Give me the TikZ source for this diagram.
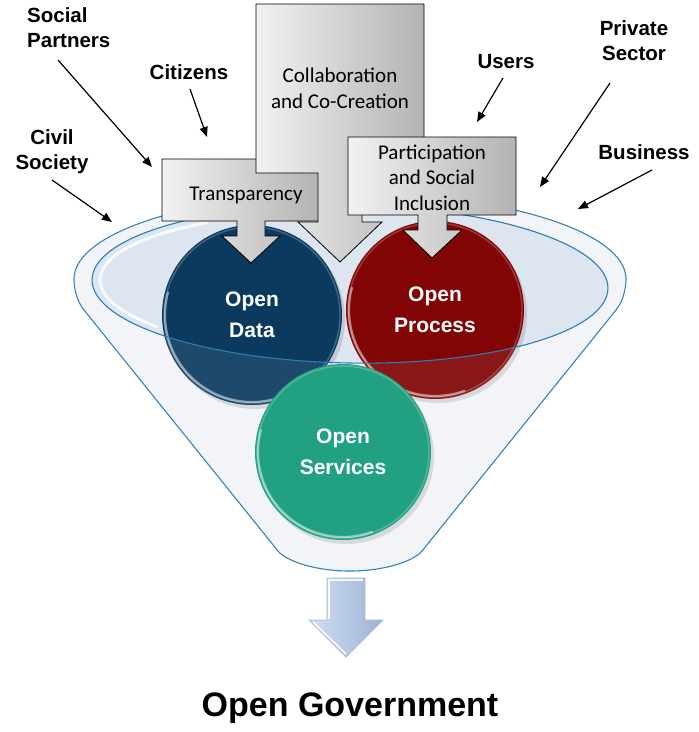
\documentclass[tikz,border=0pt]{standalone}
\usepackage{fontspec}
\setmainfont{Liberation Sans}
\newfontfamily\calfont{Carlito}
\usetikzlibrary{arrows.meta}
\definecolor{funnelblue}{HTML}{2F7DB5}
\definecolor{funnelfill}{HTML}{F3F4F7}
\definecolor{mouthfill}{HTML}{DDE5F0}
\definecolor{odata}{HTML}{0B3A5E}
\definecolor{oproc}{HTML}{820505}
\definecolor{oserv}{HTML}{0F9A78}
\definecolor{boxL}{HTML}{F2F2F2}
\definecolor{boxR}{HTML}{B3B3B3}
\definecolor{arrL}{HTML}{D2DEF0}
\definecolor{arrR}{HTML}{9CB3D6}
\definecolor{arrEdge}{HTML}{A9BCDA}
\def\funnelpath{(74,279) arc[start angle=180,end angle=360,x radius=276,y radius=86]
  .. controls (626,290) and (622.4,302) .. (616,310) -- (422,551)
  .. controls (414,561) and (385,571) .. (350,571)
  .. controls (315,571) and (286,561) .. (278,551) -- (84,310)
  .. controls (77.6,302) and (74,290) .. (74,279) -- cycle}
\begin{document}
\begin{tikzpicture}[x=1pt,y=-1pt,
  lab/.style={font=\fontsize{20.5}{25}\selectfont\bfseries, align=center, inner sep=0pt},
  pointer/.style={line width=1.2pt, -{Triangle[length=10pt,width=8pt]}},
  callout/.style={draw=black, line width=0.8pt, left color=boxL, right color=boxR},
  boxtext/.style={font=\calfont\fontsize{21}{25.5}\selectfont, align=center, text=black, inner sep=0pt},
  disc/.style={circle, minimum size=#1, inner sep=0pt, text=white, font=\fontsize{21}{31}\selectfont\bfseries, align=center},
  funnelline/.style={draw=funnelblue, line width=1.1pt},
  rimfull/.style={white, line width=1.4pt, opacity=.22},
  rim/.style={white, line width=2.2pt, opacity=.5, line cap=round}]
\useasboundingbox (0,0) rectangle (699,732);
% funnel body
\path[fill=funnelfill, funnelline] \funnelpath;
% mouth
\fill[mouthfill, rotate around={-1:(350,284)}] (350,284) ellipse[x radius=258, y radius=79];
\draw[white, line width=3pt, opacity=.8, rotate around={-1:(350,284)}] (350,284) ++(140:250 and 72) arc[start angle=140, end angle=235, x radius=250, y radius=72];
% shadows of discs
\fill[black, opacity=.12] (255,319) circle (90);
\fill[black, opacity=.12] (438,314) circle (89);
\fill[black, opacity=.12] (346,456) circle (88);
% discs
\node[disc=180, fill=odata] (data) at (252,315) {Open\\Data};
\draw[rimfull] (252,315) circle (88);
\draw[rim] (252,315) ++(70:87) arc[start angle=70, end angle=195, radius=87];
\node[disc=178, fill=oproc] (proc) at (435,310) {Open\\Process};
\draw[rimfull] (435,310) circle (87);
\draw[rim] (435,310) ++(70:86) arc[start angle=70, end angle=195, radius=86];
\node[disc=176, fill=oserv] (serv) at (343,452) {Open\\Services};
\draw[rimfull] (343,452) circle (86);
\draw[rim] (343,452) ++(70:85) arc[start angle=70, end angle=195, radius=85];
% lighten what lies below the mouth
\begin{scope}
  \clip \funnelpath;
  \fill[white, opacity=.08, even odd rule, rotate around={-1:(350,284)}] (-50,-50) rectangle (750,780) (350,284) ellipse[x radius=258, y radius=79];
\end{scope}
% mouth outline
\draw[funnelline, rotate around={-1:(350,284)}] (350,284) ellipse[x radius=258, y radius=79];
% callout arrows
\path[callout] (162,159) -- (319,159) -- (319,221) -- (265,221) -- (265,236) -- (280,236) -- (251,263) -- (222,236) -- (237,236) -- (237,221) -- (162,221) -- cycle;
\node[boxtext] (transp) at (246,195) {Transparency};
\path[callout] (256,4) -- (424,4) -- (424,173) -- (362,173) -- (362,222) -- (382,222) -- (340,262) -- (298,222) -- (318,222) -- (318,173) -- (256,173) -- cycle;
\node[boxtext] (collab) at (340,88.5) {Collaboration\\and Co-Creation};
\path[callout] (348,137) -- (516,137) -- (516,215) -- (447,215) -- (447,230) -- (462,230) -- (432,258) -- (403,230) -- (418,230) -- (418,215) -- (348,215) -- cycle;
\node[boxtext] (partic) at (432,177.5) {Participation\\and Social\\Inclusion};
% labels
\node[lab, align=left, anchor=west] (social) at (27,27.5) {Social\\Partners};
\node[lab] (citizens) at (189,72) {Citizens};
\node[lab] (civil) at (52,151.5) {Civil\\Society};
\node[lab] (users) at (506,62) {Users};
\node[lab] (private) at (634,40.5) {Private\\Sector};
\node[lab] (business) at (644,152) {Business};
\coordinate (socialT) at (58,60);   \coordinate (socialH) at (152,167);
\coordinate (citizT) at (190,89);   \coordinate (citizH) at (207,137);
\coordinate (civilT) at (52,180);   \coordinate (civilH) at (112,222);
\coordinate (usersT) at (503,78);   \coordinate (usersH) at (477,122);
\coordinate (privT) at (610,83);    \coordinate (privH) at (540,187);
\coordinate (busT) at (652,170);    \coordinate (busH) at (578,209);
\draw[pointer] (socialT) -- (socialH);
\draw[pointer] (citizT) -- (citizH);
\draw[pointer] (civilT) -- (civilH);
\draw[pointer] (usersT) -- (usersH);
\draw[pointer] (privT) -- (privH);
\draw[pointer] (busT) -- (busH);
% output arrow
\path[left color=arrL, right color=arrR, draw=arrEdge, line width=0.8pt] (327,578) -- (365,578) -- (365,620) -- (383,620) -- (346,657) -- (309,620) -- (327,620) -- cycle;
\draw[white, line width=1.6pt, opacity=.9] (329,619) -- (329,580) -- (363,580);
\draw[white, line width=1.6pt, opacity=.9] (313,622) -- (346,654);
\node[font=\fontsize{34}{40}\selectfont\bfseries] (gov) at (350,708) {Open Government};
\end{tikzpicture}
\end{document}
